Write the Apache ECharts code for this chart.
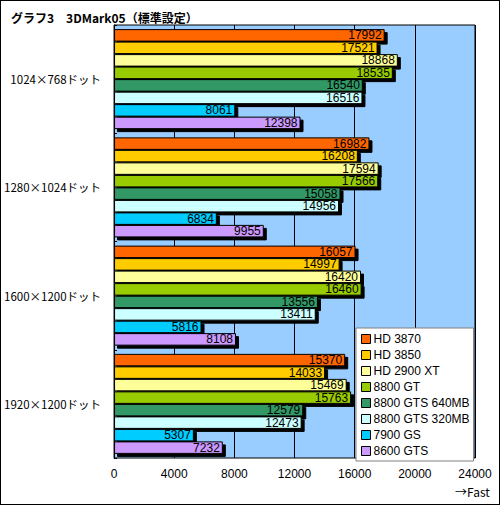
<!DOCTYPE html>
<html><head><meta charset="utf-8">
<script src="https://cdn.jsdelivr.net/npm/echarts@6/dist/echarts.min.js"></script>
<style>
html,body{margin:0;padding:0;background:#fff;}
#c{width:500px;height:505px;box-sizing:border-box;border:1px solid #000;}
</style></head><body>
<div id="c"></div>
<script>
var categories = ['1024×768ドット','1280×1024ドット','1600×1200ドット','1920×1200ドット'];
var seriesNames = ['HD 3870','HD 3850','HD 2900 XT','8800 GT','8800 GTS 640MB','8800 GTS 320MB','7900 GS','8600 GTS'];
var seriesColors = ['#FF6600','#FFCC00','#FFFF99','#99CC00','#339966','#CCFFFF','#00CCFF','#CC99FF'];
var hd3870 = [17992,16982,16057,15370];
var hd3850 = [17521,16208,14997,14033];
var hd2900xt = [18868,17594,16420,15469];
var gt8800 = [18535,17566,16460,15763];
var gts640 = [16540,15058,13556,12579];
var gts320 = [16516,14956,13411,12473];
var gs7900 = [8061,6834,5816,5307];
var gts8600 = [12398,9955,8108,7232];
var xTicks = [0,4000,8000,12000,16000,20000,24000];
var values = [hd3870,hd3850,hd2900xt,gt8800,gts640,gts320,gs7900,gts8600];

var chart = echarts.init(document.getElementById('c'), null, {renderer:'svg'});
var series = seriesNames.map(function(n,i){
  return {
    name:n, type:'bar', data:values[i],
    barGap:'0%', barCategoryGap:'7.6%',
    itemStyle:{color:seriesColors[i], borderColor:'#000', borderWidth:1,
      shadowColor:'#000', shadowOffsetX:3, shadowOffsetY:3, shadowBlur:0},
    label:{show:true, position:'insideRight', distance:3, color:'#000',
      fontFamily:'Liberation Sans', fontSize:12,
      textBorderWidth:0, textShadowBlur:0},
    emphasis:{disabled:true}, animation:false
  };
});
chart.setOption({
  animation:false,
  title:{text:'グラフ3　3DMark05（標準設定）', left:5, top:5,
    textStyle:{fontFamily:'Noto Sans CJK JP', fontSize:12, fontWeight:'bold', color:'#000'}},
  grid:{left:113, right:24, top:24, bottom:46, show:true, backgroundColor:'#99CCFF', borderColor:'#000', borderWidth:1, containLabel:false},
  legend:{orient:'vertical', left:355, top:327, data:seriesNames,
    backgroundColor:'#fff', borderColor:'#808080', borderWidth:1, padding:[4,4,3,5],
    icon:'rect', itemWidth:9, itemHeight:9, itemGap:2,
    itemStyle:{borderColor:'#000', borderWidth:1, shadowBlur:0, shadowOffsetX:0, shadowOffsetY:0, shadowColor:'transparent'},
    textStyle:{fontFamily:'Liberation Sans', fontSize:12, color:'#000', lineHeight:14, padding:[0,0,0,-2]}},
  xAxis:{type:'value', min:0, max:24000, interval:4000,
    axisLine:{show:true, lineStyle:{color:'#808080'}},
    axisTick:{show:false},
    splitLine:{show:true, lineStyle:{color:'#000', width:1}},
    axisLabel:{color:'#000', fontFamily:'Liberation Sans', fontSize:12, margin:10,
      formatter:function(v){return xTicks.indexOf(v)>=0?String(v):'';}}},
  yAxis:{type:'category', data:categories, inverse:true,
    axisLine:{show:true, lineStyle:{color:'#000'}},
    axisTick:{show:true, inside:true, length:3, lineStyle:{color:'#000'}},
    axisLabel:{color:'#000', fontFamily:'Noto Sans CJK JP', fontSize:11.5, margin:13}},
  graphic:[{type:'text', left:454, top:484, style:{text:'→Fast', fontFamily:'Noto Sans CJK JP', fontSize:12, fill:'#000'}}],
  series:series
});
</script></body></html>
